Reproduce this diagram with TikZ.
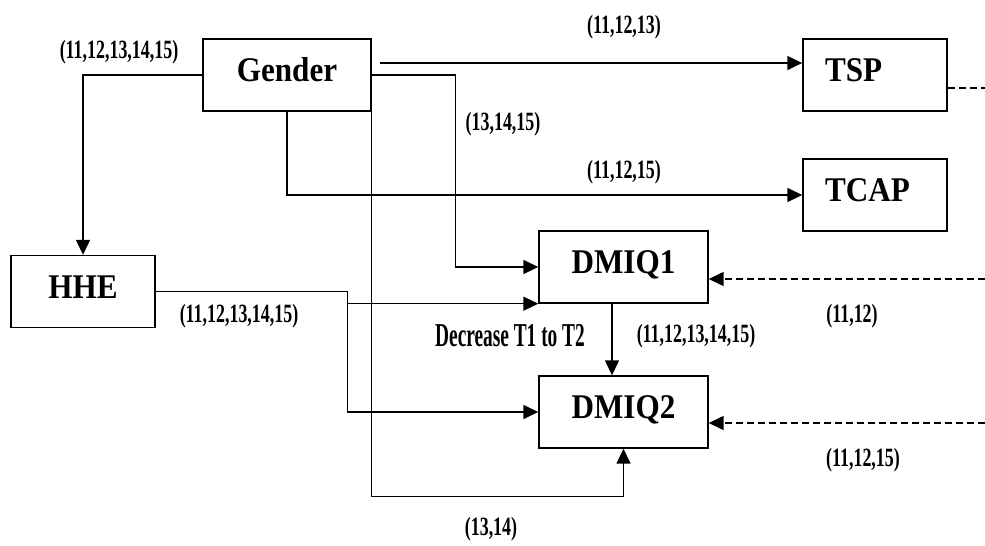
\documentclass[tikz,border=0pt]{standalone}
\usepackage{fontspec}
\setmainfont{Liberation Serif}
\newfontfamily\boxfont[FakeStretch=0.9]{Liberation Serif}
\newfontfamily\numfont[FakeStretch=0.68]{Liberation Serif}
\newfontfamily\notefont[FakeStretch=0.58]{Liberation Serif}
\usetikzlibrary{arrows.meta}

\begin{document}
\begin{tikzpicture}[x=0.02cm, y=-0.02cm, line width=0.8pt,
    >={Triangle[length=0.3cm,width=0.28cm]}]
    \tikzset{block/.style={%
      draw,%
      rectangle,%
      minimum width=3.36cm,%
      minimum height=1.44cm,%
      inner sep=0pt,%
      text height=0.46cm,%
      text depth=0.2cm,%
      font=\boxfont\bfseries\fontsize{19.7}{22}\selectfont}%
    };
\tikzset{smallblock/.style={block, minimum width=2.88cm, text width=2.0cm, align=left}};
\tikzset{count/.style={font=\numfont\bfseries\fontsize{15}{17}\selectfont}};
\tikzset{feed/.style={dash pattern=on 0.14cm off 0.08cm}};

\useasboundingbox (0,0) rectangle (985,545);

\node[block] (gender) at (287,75) {Gender};
\node[smallblock] (tsp) at (875,75) {TSP};
\node[smallblock] (tcap) at (875,195) {TCAP};
\node[block, minimum width=2.88cm] (hhe) at (83,291.5) {HHE};
\node[block, minimum width=3.38cm] (dmiq1) at (623.5,267) {DMIQ1};
\node[block, minimum width=3.38cm] (dmiq2) at (623.5,412) {DMIQ2};

%loose ends
\coordinate (tspin) at (380,63);
\coordinate (tspout) at (985,88);
\coordinate (in1) at (985,279);
\coordinate (in2) at (985,423);

%gender links
\draw [->] (gender.west) -| (hhe.north);
\draw [->] (tspin) -- (tspin -| tsp.west);
\draw [->] (gender.east) -- ++(84,0) |- (dmiq1.west);
\draw [->] (gender.south) |- (tcap.west);
\draw [->] (gender.south east) -- ++(0,385) -| (dmiq2.south);

%hhe links
\draw (hhe.east) -- ++(192,0) coordinate (split);
\draw [->] (split) |- (dmiq1.south west);
\draw [->] (split) |- (dmiq2.west);

\draw [->] ([xshift=-0.23cm]dmiq1.south) -- ([xshift=-0.23cm]dmiq2.north);

%dashed feeds on the right
\draw [feed] (tspout -| tsp.east) -- (tspout);
\draw [feed, ->] (in1) -- (in1 -| dmiq1.east);
\draw [feed, ->] (in2) -- (in2 -| dmiq2.east);

%text on the links
\node[count] (lgender) at (119,52) {(11,12,13,14,15)};
\node[count] (ltsp) at (624,27) {(11,12,13)};
\node[count] (ldmiq) at (503,124) {(13,14,15)};
\node[count] (ltcap) at (624,172) {(11,12,15)};
\node[count] (lhhe) at (239,316) {(11,12,13,14,15)};
\node[font=\notefont\bfseries\fontsize{19}{21}\selectfont] (decrease) at (510,336) {Decrease T1 to T2};
\node[count] (ldown) at (696,336) {(11,12,13,14,15)};
\node[count] (lin1) at (852,316) {(11,12)};
\node[count] (lin2) at (863,460) {(11,12,15)};
\node[count] (lbottom) at (491,529) {(13,14)};

\end{tikzpicture}
\end{document}
